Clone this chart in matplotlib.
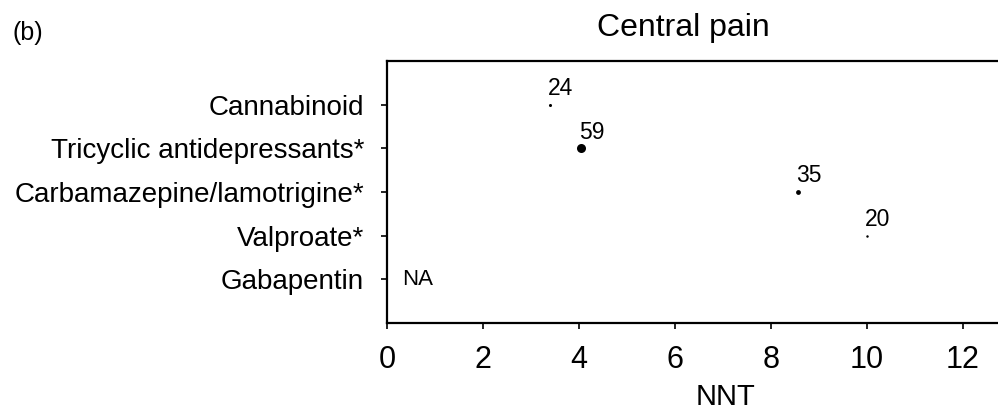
import matplotlib
matplotlib.use("Agg")
import matplotlib.pyplot as plt
import numpy as np

plt.rcParams['font.family'] = ['Liberation Sans', 'DejaVu Sans']

categories = ["Cannabinoid", "Tricyclic antidepressants*", "Carbamazepine/lamotrigine*",
              "Valproate*", "Gabapentin"]
nnt = [3.4, 4.05, 8.56, 10.0, None]
n_patients = [24, 59, 35, 20, None]
x_ticks = [0, 2, 4, 6, 8, 10, 12]

fig = plt.figure(figsize=(9.98, 4.12), dpi=100)
ax = fig.add_axes([387 / 998, 1 - 323 / 412, 1 - 387 / 998, (323 - 61) / 412])

ypos = np.arange(1, len(categories) + 1)
for y, x, n in zip(ypos, nnt, n_patients):
    if x is None:
        ax.text(0.31, y, "NA", fontsize=16, va='center', ha='left')
        continue
    d = 6.5 * (n / 59) ** 1.2
    ax.plot([x], [y], 'o', color='black', markersize=d, markeredgewidth=0)
    ax.annotate(str(n), (x, y), xytext=(-1.5, 7), textcoords='offset points',
                fontsize=16.5, ha='left', va='baseline')

ax.set_xlim(0, 12.73)
ax.set_ylim(6, 0)
ax.set_yticks(ypos)
ax.set_yticklabels(categories, fontsize=20)
ax.set_xticks(x_ticks)
ax.set_xticklabels([str(t) for t in x_ticks], fontsize=22)
ax.spines['right'].set_visible(False)
for s in ['left', 'bottom', 'top']:
    ax.spines[s].set_linewidth(1.6)
ax.tick_params(axis='both', direction='out', length=4.5, width=1.2)
ax.tick_params(axis='x', pad=11)
ax.tick_params(axis='y', pad=12)

fig.text(725 / 998, 1 - 405 / 412, "NNT", fontsize=21, ha='center', va='baseline')
fig.text(683 / 998, 1 - 36 / 412, "Central pain", fontsize=23, ha='center', va='baseline')
fig.text(13 / 998, 1 - 40 / 412, "(b)", fontsize=18, ha='left', va='baseline')

fig.savefig("out.png", dpi=100)
